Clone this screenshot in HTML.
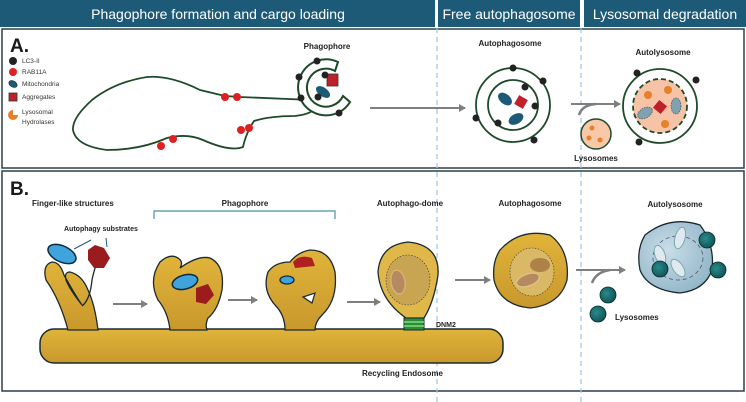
<!DOCTYPE html>
<html><head><meta charset="utf-8"><style>
html,body{margin:0;padding:0;background:#fff;}
svg{display:block;font-family:"Liberation Sans",sans-serif;}
</style></head><body>
<svg width="746" height="402" viewBox="0 0 746 402" xmlns="http://www.w3.org/2000/svg">
<defs>
<linearGradient id="gold" x1="0" y1="0" x2="0" y2="1"><stop offset="0" stop-color="#e0b43a"/><stop offset="1" stop-color="#c9982c"/></linearGradient>
<radialGradient id="blue" cx="0.4" cy="0.4" r="0.7"><stop offset="0" stop-color="#c9dde8"/><stop offset="1" stop-color="#8fb3c6"/></radialGradient>
<radialGradient id="teal" cx="0.4" cy="0.4" r="0.7"><stop offset="0" stop-color="#2a8a8a"/><stop offset="1" stop-color="#0c4f52"/></radialGradient>
<marker id="ah" markerWidth="8" markerHeight="8" refX="6" refY="4" orient="auto" markerUnits="userSpaceOnUse"><path d="M0,0 L7,4 L0,8 z" fill="#7f7f7f"/></marker>
</defs>
<rect x="0" y="0" width="435" height="27" fill="#1d5a78"/>
<rect x="438" y="0" width="142" height="27" fill="#1d5a78"/>
<rect x="584" y="0" width="162" height="27" fill="#1d5a78"/>
<g fill="#fff" font-size="14" text-anchor="middle">
<text x="218" y="19">Phagophore formation and cargo loading</text>
<text x="509" y="19">Free autophagosome</text>
<text x="665" y="19">Lysosomal degradation</text>
</g>
<rect x="2" y="29" width="742" height="139" fill="none" stroke="#2c3e48" stroke-width="1.5"/>
<rect x="2" y="171" width="742" height="220" fill="none" stroke="#2c3e48" stroke-width="1.5"/>
<line x1="437" y1="28" x2="437" y2="402" stroke="#9cc5e6" stroke-width="1.2" stroke-dasharray="5,4"/>
<line x1="581" y1="28" x2="581" y2="402" stroke="#9cc5e6" stroke-width="1.2" stroke-dasharray="5,4"/>

<text x="10" y="52" font-size="19" font-weight="bold" fill="#1a1a1a">A.</text>
<circle cx="13" cy="61" r="4" fill="#222"/>
<circle cx="13" cy="72" r="4" fill="#e02020"/>
<ellipse cx="13" cy="84" rx="4.5" ry="3" fill="#1c5a78" stroke="#123" stroke-width=".6" transform="rotate(30 13 84)"/>
<rect x="9" y="93" width="8" height="8" fill="#c0202a" stroke="#333" stroke-width=".8"/>
<path d="M13,110 A5,5 0 1 0 18,115 L13,115 Z" fill="#e87f2a"/>
<g font-size="6.5" fill="#333">
<text x="22" y="63">LC3-II</text><text x="22" y="74">RAB11A</text><text x="22" y="86">Mitochondria</text><text x="22" y="99">Aggregates</text><text x="22" y="114">Lysosomal</text><text x="22" y="124">Hydrolases</text>
</g>
<path d="M312,100 L240,97 L225,96 L200,90 Q170,75 147,77 Q115,82 92,100 Q72,118 73,130 Q76,146 107,150 Q140,150 167,138 Q187,133 203,140 Q230,152 243,147 Q246,133 254,121 Q270,116 295,116 Q313,114 315,107" fill="none" stroke="#1f4a2a" stroke-width="1.8"/>
<circle cx="225" cy="97" r="4" fill="#e02020"/><circle cx="237" cy="97" r="4" fill="#e02020"/>
<circle cx="241" cy="130" r="4" fill="#e02020"/><circle cx="249" cy="128" r="4" fill="#e02020"/>
<circle cx="161" cy="146" r="4" fill="#e02020"/><circle cx="173" cy="139" r="4" fill="#e02020"/>
<path d="M338,62 A28,28 0 1 0 350,102 L343,96 A19,19 0 1 1 335,71 Z" fill="#fff" stroke="#1f4a2a" stroke-width="2"/>
<rect x="327" y="74" width="11" height="12" fill="#c0202a" stroke="#333" stroke-width=".8"/>
<ellipse cx="323" cy="92" rx="8" ry="4.5" fill="#1c5a78" transform="rotate(35 323 92)"/>
<g fill="#222"><circle cx="317" cy="61" r="3.5"/><circle cx="299" cy="77" r="3.5"/><circle cx="325" cy="75" r="3.5"/><circle cx="301" cy="98" r="3.5"/><circle cx="318" cy="97" r="3.5"/><circle cx="339" cy="113" r="3.5"/></g>
<text x="327" y="49" font-size="8" font-weight="bold" text-anchor="middle" fill="#222">Phagophore</text>
<line x1="370" y1="108" x2="465" y2="108" stroke="#7f7f7f" stroke-width="2" marker-end="url(#ah)"/>
<text x="510" y="46" font-size="8" font-weight="bold" text-anchor="middle" fill="#222">Autophagosome</text>
<circle cx="513" cy="105" r="37" fill="#fff" stroke="#1f4a2a" stroke-width="1.8"/>
<circle cx="513" cy="105" r="25" fill="#fff" stroke="#1f4a2a" stroke-width="1.8"/>
<ellipse cx="505" cy="99" rx="8" ry="5" fill="#1c5a78" transform="rotate(40 505 99)"/>
<ellipse cx="516" cy="119" rx="8" ry="5" fill="#1c5a78" transform="rotate(-30 516 119)"/>
<rect x="516" y="97" width="10" height="10" fill="#c0202a" transform="rotate(30 521 102)"/>
<g fill="#222"><circle cx="513" cy="68" r="3.5"/><circle cx="543" cy="81" r="3.5"/><circle cx="525" cy="87" r="3.5"/><circle cx="535" cy="106" r="3.5"/><circle cx="476" cy="118" r="3.5"/><circle cx="498" cy="123" r="3.5"/><circle cx="534" cy="140" r="3.5"/></g>
<line x1="571" y1="104" x2="620" y2="104" stroke="#7f7f7f" stroke-width="2" marker-end="url(#ah)"/>
<path d="M579,115 Q582,105 596,104" fill="none" stroke="#7f7f7f" stroke-width="2.5"/>
<circle cx="596" cy="134" r="15" fill="#f8c9a9" stroke="#1f4a2a" stroke-width="1.5"/>
<g fill="#e87f2a"><circle cx="592" cy="128" r="2.5"/><circle cx="589" cy="138" r="2.5"/><circle cx="600" cy="140" r="2.5"/></g>
<text x="596" y="161" font-size="8" font-weight="bold" text-anchor="middle" fill="#222">Lysosomes</text>
<text x="663" y="55" font-size="8" font-weight="bold" text-anchor="middle" fill="#222">Autolysosome</text>
<circle cx="660" cy="106" r="37" fill="#fff" stroke="#1f4a2a" stroke-width="1.8"/>
<circle cx="660" cy="106" r="27" fill="#f7c3a6" stroke="#1f4a2a" stroke-width="1.8" stroke-dasharray="5,3"/>
<ellipse cx="645" cy="113" rx="8" ry="5" fill="#7fa2b0" stroke="#345" stroke-width=".6" stroke-dasharray="1.5,1" transform="rotate(-30 645 113)"/>
<ellipse cx="676" cy="106" rx="5" ry="8" fill="#7fa2b0" stroke="#345" stroke-width=".6" stroke-dasharray="1.5,1"/>
<rect x="655" y="102" width="10" height="10" fill="#c0202a" transform="rotate(40 660 107)"/>
<g fill="#e87f2a"><circle cx="648" cy="95" r="4"/><circle cx="668" cy="90" r="4"/><circle cx="665" cy="124" r="4"/></g>
<g fill="#222"><circle cx="637" cy="73" r="3.5"/><circle cx="696" cy="80" r="3.5"/><circle cx="639" cy="142" r="3.5"/></g>

<text x="10" y="195" font-size="19" font-weight="bold" fill="#1a1a1a">B.</text>
<g font-weight="bold" fill="#222" font-size="8">
<text x="32" y="206">Finger-like structures</text>
<text x="245" y="206" text-anchor="middle">Phagophore</text>
<text x="410" y="206" text-anchor="middle">Autophago-dome</text>
<text x="530" y="206" text-anchor="middle">Autophagosome</text>
<text x="675" y="207" text-anchor="middle">Autolysosome</text>
<text x="64" y="231" font-size="7">Autophagy substrates</text>
<text x="436" y="327" font-size="7">DNM2</text>
<text x="362" y="376">Recycling Endosome</text>
<text x="615" y="320">Lysosomes</text>
</g>
<path d="M154,219 V211 H335 V219" fill="none" stroke="#4d8fa8" stroke-width="1.2"/>
<rect x="40" y="329" width="463" height="34" rx="14" fill="url(#gold)" stroke="#1a2a30" stroke-width="1.5"/>
<path d="M68,330 Q60,300 46,280 Q42,265 52,262 Q60,262 64,275 Q75,295 82,305 Q70,290 66,280 Q64,272 70,272 Q82,275 88,290 Q95,305 98,330 Z" fill="url(#gold)" stroke="#1a2a30" stroke-width="1.3"/>
<path d="M82,306 Q90,300 92,280 Q95,265 100,258" fill="none" stroke="#1a2a30" stroke-width="1.3"/>
<ellipse cx="62" cy="254" rx="15" ry="8" fill="#3fa3dc" stroke="#0d2a40" stroke-width="1.5" transform="rotate(25 62 254)"/>
<path d="M88,250 L95,245 L104,248 L110,258 L104,268 L94,268 L88,260 Z" fill="#9a1c1c"/>
<line x1="74" y1="249" x2="91" y2="240" stroke="#1c5a78"/><line x1="107" y1="247" x2="106" y2="238" stroke="#1c5a78"/>
<path d="M170,330 Q168,312 158,300 Q148,280 160,262 Q170,253 178,258 Q184,262 180,268 Q198,255 210,258 Q225,265 222,290 Q218,310 208,318 Q205,325 207,330 Z" fill="url(#gold)" stroke="#1a2a30" stroke-width="1.3"/>
<ellipse cx="185" cy="282" rx="13" ry="7" fill="#3fa3dc" stroke="#0d2a40" stroke-width="1.5" transform="rotate(-15 185 282)"/>
<path d="M196,288 L208,284 L214,295 L206,304 L196,302 Z" fill="#9a1c1c"/>
<path d="M285,330 Q285,315 275,305 Q262,290 268,272 Q275,262 290,262 Q298,252 310,250 Q330,250 335,272 Q338,300 322,315 Q315,322 315,330 Z" fill="url(#gold)" stroke="#1a2a30" stroke-width="1.3"/>
<path d="M293,262 Q300,254 312,258 L315,266 L295,268 Z" fill="#b02020"/>
<ellipse cx="287" cy="280" rx="7" ry="4" fill="#3fa3dc" stroke="#0d2a40" stroke-width="1.3"/>
<path d="M303,297 L315,293 L312,303 Z" fill="#fff" stroke="#1a2a30" stroke-width="1.2"/>
<path d="M406,318 Q380,300 378,272 Q380,245 408,242 Q440,245 438,275 Q434,302 424,318 Z" fill="#e0b84a" stroke="#1a2a30" stroke-width="1.3"/>
<ellipse cx="408" cy="280" rx="22" ry="25" fill="#c8a552" stroke="#334" stroke-width=".6" stroke-dasharray="1.5,1.5"/>
<ellipse cx="398" cy="282" rx="7" ry="12" fill="#b58a60" stroke="#d9b070" stroke-width="1.5" transform="rotate(-10 398 282)"/>
<rect x="404" y="318" width="20" height="12" fill="#2f8a3a" stroke="#1a2a30"/>
<line x1="404" y1="322" x2="424" y2="322" stroke="#7be07b" stroke-width="1.5"/><line x1="404" y1="326" x2="424" y2="326" stroke="#7be07b" stroke-width="1.5"/>
<g stroke="#7f7f7f" stroke-width="2" marker-end="url(#ah)">
<line x1="113" y1="304" x2="147" y2="304"/><line x1="228" y1="300" x2="257" y2="300"/><line x1="347" y1="302" x2="380" y2="302"/><line x1="455" y1="280" x2="490" y2="280"/><line x1="576" y1="270" x2="625" y2="270"/>
</g>
<path d="M592,283 Q596,272 610,270" fill="none" stroke="#7f7f7f" stroke-width="2.5"/>
<path d="M500,250 Q520,228 550,235 Q570,250 567,280 Q560,305 530,308 Q500,305 494,280 Q492,262 500,250 Z" fill="url(#gold)" stroke="#1a2a30" stroke-width="1.3"/>
<ellipse cx="532" cy="272" rx="22" ry="24" fill="#d9b866" stroke="#334" stroke-width=".6" stroke-dasharray="1.5,1.5"/>
<ellipse cx="528" cy="280" rx="12" ry="6" fill="#b58a60" stroke="#e0c080" stroke-width="1.5" transform="rotate(-20 528 280)"/>
<ellipse cx="540" cy="265" rx="10" ry="7" fill="#9a6a3a" opacity=".7"/>
<path d="M645,235 Q670,215 700,225 Q715,245 712,270 Q705,290 680,293 Q648,290 640,270 Q636,250 645,235 Z" fill="url(#blue)" stroke="#1a2a30" stroke-width="1.3"/>
<ellipse cx="678" cy="258" rx="25" ry="22" fill="none" stroke="#556" stroke-width=".8" stroke-dasharray="4,3"/>
<ellipse cx="680" cy="238" rx="5" ry="11" fill="#dfe9ef" stroke="#7aa" transform="rotate(15 680 238)"/>
<ellipse cx="660" cy="255" rx="5" ry="10" fill="#dfe9ef" stroke="#7aa" transform="rotate(-20 660 255)"/>
<ellipse cx="678" cy="268" rx="5" ry="10" fill="#dfe9ef" stroke="#7aa" transform="rotate(-35 678 268)"/>
<g fill="url(#teal)" stroke="#0a2a2a" stroke-width=".8">
<circle cx="707" cy="240" r="8"/><circle cx="718" cy="270" r="8"/><circle cx="660" cy="269" r="8"/><circle cx="608" cy="295" r="8"/><circle cx="598" cy="314" r="8"/>
</g>
</svg>
</body></html>
